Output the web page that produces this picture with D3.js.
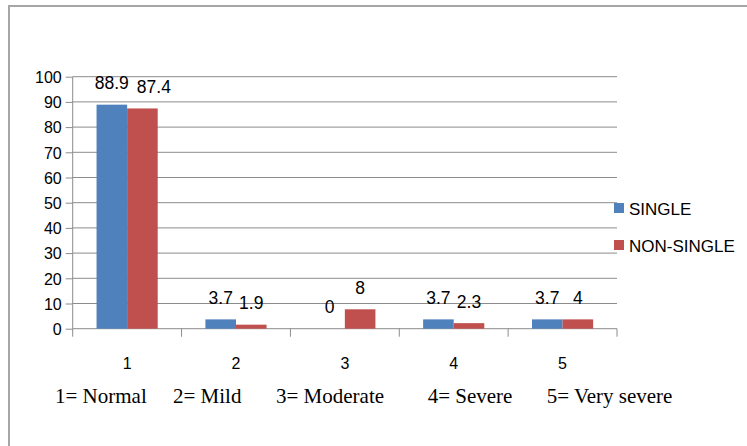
<!DOCTYPE html>
<html>
<head>
<meta charset="utf-8">
<script src="https://cdn.jsdelivr.net/npm/d3@7"></script>
<style>
  html, body { margin: 0; padding: 0; background: #fff; }
  svg { display: block; }
</style>
</head>
<body>
<svg id="chart" width="747" height="446"></svg>
<script>
// ---- data ----
const categories = ["1", "2", "3", "4", "5"];
const seriesNames = ["SINGLE", "NON-SINGLE"];
const singleValues = [88.9, 3.7, 0, 3.7, 3.7];
const nonSingleValues = [87.4, 1.6, 7.7, 2.2, 3.7];
const singleLabels = ["88.9", "3.7", "0", "3.7", "3.7"];
const nonSingleLabels = ["87.4", "1.9", "8", "2.3", "4"];
const yTicks = [0, 10, 20, 30, 40, 50, 60, 70, 80, 90, 100];
const noteLabels = ["1= Normal", "2= Mild", "3= Moderate", "4= Severe", "5= Very severe"];

// ---- layout ----
const colors = ["#4F81BD", "#C0504D"];
const sans = "Liberation Sans, Arial, sans-serif";
const svg = d3.select("#chart");
const plot = { left: 72.7, right: 617, top: 76.7, bottom: 328.7 };

// outer border
svg.append("rect").attr("x", 9).attr("y", 6).attr("width", 800).attr("height", 500)
  .attr("fill", "none").attr("stroke", "#a6a6a6").attr("stroke-width", 2);

const x = d3.scaleBand().domain(categories).range([plot.left, plot.right]).paddingInner(0).paddingOuter(0);
const inner = d3.scaleBand().domain(seriesNames).range([0, x.bandwidth()]).paddingOuter(0.78).paddingInner(0);
const y = d3.scaleLinear().domain([0, 100]).range([plot.bottom, plot.top]);

// gridlines
svg.append("g").selectAll("line").data(yTicks.filter(d => d > 0)).join("line")
  .attr("x1", plot.left).attr("x2", plot.right)
  .attr("y1", d => y(d)).attr("y2", d => y(d))
  .attr("stroke", "#8c8c8c").attr("stroke-width", 1);

// y axis
const yAxis = svg.append("g").attr("transform", `translate(${plot.left},0)`)
  .call(d3.axisLeft(y).tickValues(yTicks).tickSize(7).tickPadding(4).tickFormat(d3.format("d")));
yAxis.select(".domain").attr("stroke", "#8c8c8c").attr("d", `M0,${plot.top}V${plot.bottom}`);
yAxis.selectAll(".tick line").attr("stroke", "#8c8c8c");
yAxis.selectAll("text").attr("font-family", sans)
  .attr("font-size", 16).attr("fill", "#000").attr("dy", "0.36em");

// x axis (ticks at category boundaries)
const xAxisG = svg.append("g").attr("transform", `translate(0,${plot.bottom})`);
xAxisG.append("line").attr("x1", plot.left).attr("x2", plot.right)
  .attr("stroke", "#8c8c8c").attr("stroke-width", 1);
const boundaries = categories.map(c => x(c)).concat([plot.right]);
xAxisG.selectAll("line.b").data(boundaries).join("line").attr("class", "b")
  .attr("x1", d => d).attr("x2", d => d).attr("y1", 0).attr("y2", 8)
  .attr("stroke", "#8c8c8c");
xAxisG.selectAll("text").data(categories).join("text")
  .attr("x", d => x(d) + x.bandwidth() / 2).attr("y", 40)
  .attr("text-anchor", "middle")
  .attr("font-family", sans).attr("font-size", 16)
  .text(d => d);

// bars
const series = [singleValues, nonSingleValues];
const labels = [singleLabels, nonSingleLabels];
const groups = svg.append("g");
series.forEach((vals, si) => {
  groups.append("g").selectAll("rect").data(vals).join("rect")
    .attr("x", (d, i) => x(categories[i]) + inner(seriesNames[si]))
    .attr("y", d => y(d))
    .attr("width", inner.bandwidth())
    .attr("height", d => plot.bottom - y(d))
    .attr("fill", colors[si]);
});

// data labels with simple overlap avoidance
const labelG = svg.append("g");
categories.forEach((c, i) => {
  let prevBox = null;
  series.forEach((vals, si) => {
    const cx = x(c) + inner(seriesNames[si]) + inner.bandwidth() / 2;
    const t = labelG.append("text")
      .attr("x", cx).attr("y", y(vals[i]) - 15.5)
      .attr("text-anchor", "middle")
      .attr("font-family", sans).attr("font-size", 17.5)
      .attr("fill", "#000")
      .text(labels[si][i]);
    const b = t.node().getBBox();
    if (prevBox && b.x < prevBox.x + prevBox.width && b.y < prevBox.y + prevBox.height && b.y + b.height > prevBox.y) {
      const shift = prevBox.x + prevBox.width + 8 - b.x;
      t.attr("x", cx + shift);
    }
    prevBox = t.node().getBBox();
  });
});

// legend
const legend = svg.append("g");
seriesNames.forEach((n, i) => {
  const ly = 203 + i * 37;
  legend.append("rect").attr("x", 614).attr("y", ly).attr("width", 10).attr("height", 10).attr("fill", colors[i]);
  legend.append("text").attr("x", 629).attr("y", ly + 11.5)
    .attr("font-family", sans).attr("font-size", 17)
    .attr("fill", "#000").text(n);
});

// note line
const noteX = [55, 173, 276, 427.7, 546.7];
svg.append("g").selectAll("text").data(noteLabels).join("text")
  .attr("x", (d, i) => noteX[i]).attr("y", 403)
  .attr("font-family", "Liberation Serif, Times New Roman, serif").attr("font-size", 21)
  .attr("fill", "#000").text(d => d);
</script>
</body>
</html>
